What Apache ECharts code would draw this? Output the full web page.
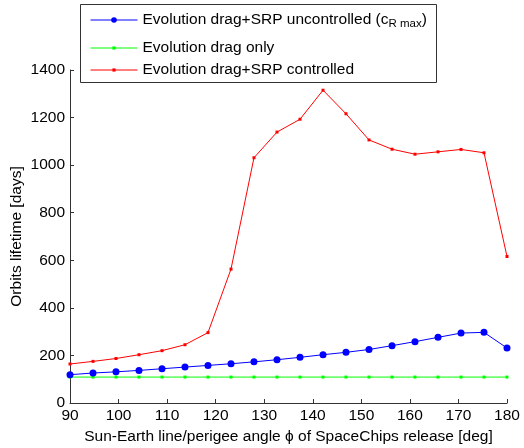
<!DOCTYPE html>
<html>
<head>
<meta charset="utf-8">
<script src="https://cdn.jsdelivr.net/npm/echarts@6/dist/echarts.min.js"></script>
<style>
  html, body { margin: 0; padding: 0; background: #fff; }
  #chart { width: 524px; height: 448px; }
</style>
</head>
<body>
<div id="chart"></div>
<script>
// release angle phi [deg]
const angles = [90, 94.74, 99.47, 104.21, 108.95, 113.68, 118.42, 123.16, 127.89, 132.63,
  137.37, 142.11, 146.84, 151.58, 156.32, 161.05, 165.79, 170.53, 175.26, 180]
// orbit lifetime [days]
const uncontrolled = [119, 126, 131, 137, 144, 151, 158, 165, 173, 182,
  192, 203, 213, 225, 241, 258, 276, 294, 297, 231]
const dragOnly = [109, 109, 109, 109, 109, 109, 109, 109, 109, 109,
  109, 109, 109, 109, 109, 109, 109, 109, 109, 109]
const controlled = [164, 175, 187, 203, 220, 245, 296, 563, 1031, 1139,
  1193, 1315, 1216, 1106, 1067, 1046, 1056, 1066, 1052, 616]

const names = [
  'Evolution drag+SRP uncontrolled (c_R max)',
  'Evolution drag only',
  'Evolution drag+SRP controlled'
]

const font = '"Liberation Sans", Arial, sans-serif'
const fs = 15.5
const axisColor = '#333'

function pairs(ys) {
  return angles.map((x, i) => [x, ys[i]])
}

// one legend block per entry so each icon keeps its own marker size
function legendRow(name, top, itemHeight) {
  return {
    orient: 'vertical',
    left: 90,
    top,
    padding: 0,
    itemWidth: 47,
    itemHeight,
    lineStyle: { width: 1 },
    data: [name],
    formatter: (n) => n === names[0]
      ? '{t|Evolution drag+SRP uncontrolled (c}{s|R max}{t|)}'
      : '{t|' + n + '}',
    textStyle: {
      color: '#000',
      fontSize: fs,
      fontFamily: font,
      rich: {
        t: { fontSize: fs, fontFamily: font, color: '#000' },
        s: { fontSize: 11.5, fontFamily: font, color: '#000', padding: [8, 0, 0, 0] }
      }
    }
  }
}

const chart = echarts.init(document.getElementById('chart'))
chart.setOption({
  animation: false,
  textStyle: { fontFamily: font },
  grid: { left: 70, right: 17, top: 70, bottom: 45, outerBoundsMode: 'none', containLabel: false },
  graphic: [{
    type: 'rect',
    left: 80,
    top: 4,
    shape: { width: 356, height: 78 },
    style: { fill: '#fff', stroke: '#333', lineWidth: 1 },
    z: 0
  }],
  legend: [
    legendRow(names[0], 12, 7),
    legendRow(names[1], 40, 4),
    legendRow(names[2], 62, 4)
  ],
  xAxis: {
    type: 'value',
    min: 90,
    max: 180,
    interval: 10,
    name: 'Sun-Earth line/perigee angle \u03d5 of SpaceChips release [deg]',
    nameLocation: 'middle',
    nameGap: 26,
    nameMoveOverlap: false,
    nameTextStyle: { fontSize: fs, color: '#000', fontFamily: font },
    axisLine: { lineStyle: { color: axisColor } },
    axisTick: { inside: true, length: 4, lineStyle: { color: axisColor } },
    axisLabel: { fontSize: fs, color: '#000', margin: 5 },
    splitLine: { show: false }
  },
  yAxis: {
    type: 'value',
    min: 0,
    max: 1400,
    interval: 200,
    name: 'Orbits lifetime [days]',
    nameLocation: 'middle',
    nameGap: 45,
    nameMoveOverlap: false,
    nameTextStyle: { fontSize: fs, color: '#000', fontFamily: font },
    axisLine: { show: true, lineStyle: { color: axisColor } },
    axisTick: { show: true, inside: true, length: 4, lineStyle: { color: axisColor } },
    axisLabel: { fontSize: fs, color: '#000', margin: 5, formatter: (v) => String(v) },
    splitLine: { show: false }
  },
  series: [
    {
      name: names[0],
      type: 'line',
      data: pairs(uncontrolled),
      symbol: 'circle',
      symbolSize: 7,
      lineStyle: { color: '#0000ff', width: 1 },
      itemStyle: { color: '#0000ff' },
      z: 3
    },
    {
      name: names[1],
      type: 'line',
      data: pairs(dragOnly),
      symbol: 'rect',
      symbolSize: 3,
      lineStyle: { color: '#00ff00', width: 1 },
      itemStyle: { color: '#00ff00' },
      z: 2
    },
    {
      name: names[2],
      type: 'line',
      data: pairs(controlled),
      symbol: 'rect',
      symbolSize: 3,
      lineStyle: { color: '#ff0000', width: 1 },
      itemStyle: { color: '#ff0000' },
      z: 4
    }
  ]
})
</script>
</body>
</html>
